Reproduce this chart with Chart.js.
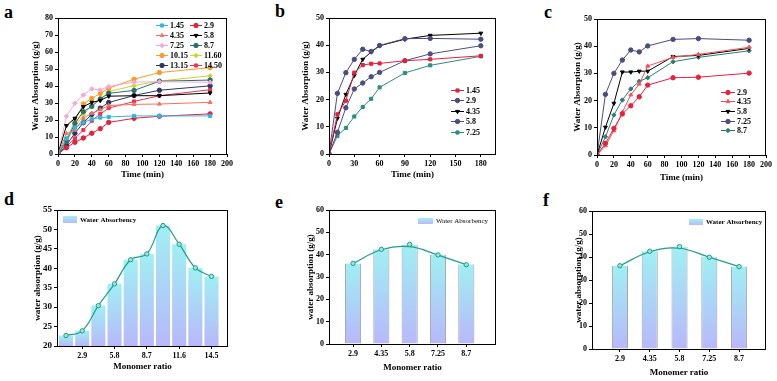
<!DOCTYPE html>
<html>
<head>
<meta charset="utf-8">
<script src="https://cdn.jsdelivr.net/npm/chart.js@4.4.0/dist/chart.umd.min.js"></script>
<style>
  body { margin: 0; width: 777px; height: 381px; position: relative; overflow: hidden; background: #fff; }
  canvas { position: absolute; }
  .tag { position: absolute; font: bold 18px "Liberation Serif", serif; line-height: 17px; color: #000; }
</style>
</head>
<body>
<div class="tag" style="left:4px;top:4px">a</div>
<div class="tag" style="left:275px;top:3px">b</div>
<div class="tag" style="left:544px;top:4px">c</div>
<div class="tag" style="left:4px;top:191px">d</div>
<div class="tag" style="left:275px;top:194px">e</div>
<div class="tag" style="left:543px;top:192px">f</div>
<script>
// ---------- data ----------
const timeMin = [0, 10, 20, 30, 40, 50, 60, 90, 120, 180];
const timeTicksB = [0, 30, 60, 90, 120, 150, 180];

// panel a
const ratioA = ['1.45', '2.9', '4.35', '5.8', '7.25', '8.7', '10.15', '11.60', '13.15', '14.50'];
const absorbA = [
    [0, 9.2, 15.5, 18.5, 20.5, 21.4, 21.8, 22.4, 22.4, 22.4],
    [0, 3.7, 6.9, 9.4, 12.2, 14.9, 18.6, 21.0, 22.2, 23.6],
    [0, 12.0, 14.1, 21.0, 24.0, 26.0, 28.5, 29.2, 29.4, 30.4],
    [0, 16.7, 21.0, 27.8, 30.4, 31.5, 34.0, 34.3, 34.3, 35.9],
    [0, 22.2, 29.8, 34.7, 38.3, 37.7, 39.7, 42.3, 42.5, 42.2],
    [0, 7.3, 18.0, 24.9, 28.0, 32.4, 35.7, 37.4, 42.8, 43.5],
    [0, 8.2, 19.4, 29.4, 32.7, 35.6, 38.7, 44.0, 47.9, 50.8],
    [0, 7.5, 16.0, 22.9, 28.8, 32.4, 36.8, 40.2, 42.9, 46.0],
    [0, 5.3, 12.2, 18.4, 23.3, 27.0, 30.3, 34.4, 37.5, 40.1],
    [0, 4.3, 9.2, 14.1, 19.6, 23.5, 27.0, 30.9, 34.3, 37.8]
];

// panel b
const ratioB = ['1.45', '2.9', '4.35', '5.8', '7.25'];
const absorbB = [
    [0, 14.6, 19.6, 29.9, 32.7, 33.2, 33.3, 34.3, 34.8, 36.1],
    [0, 22.3, 29.9, 34.8, 38.5, 37.7, 39.9, 42.4, 42.5, 42.2],
    [0, 13.1, 21.9, 28.9, 34.8, 37.5, 39.8, 42.2, 43.6, 44.4],
    [0, 8.0, 17.0, 23.9, 26.1, 28.4, 30.0, 34.3, 36.8, 39.8],
    [0, 6.7, 9.6, 13.8, 17.3, 20.3, 24.5, 29.8, 32.6, 35.9]
];

// panel c
const ratioC = ['2.9', '4.35', '5.8', '7.25', '8.7'];
const absorbC = [
    [0, 4.3, 9.8, 15.1, 18.1, 21.4, 25.7, 28.4, 28.6, 30.1],
    [0, 3.4, 8.9, 15.7, 22.1, 26.1, 32.7, 35.9, 37.0, 39.6],
    [0, 10.2, 19.0, 30.5, 30.5, 30.8, 30.8, 36.2, 36.6, 39.2],
    [0, 22.3, 30.0, 34.9, 38.6, 37.9, 40.1, 42.5, 42.8, 42.2],
    [0, 6.7, 14.7, 20.2, 24.3, 27.1, 28.4, 34.3, 35.9, 38.3]
];

// panel d
const ratioD = [1.45, 2.9, 4.35, 5.8, 7.25, 8.7, 10.15, 11.6, 13.05, 14.5];
const barsD = [22.7, 23.9, 30.4, 36.0, 42.2, 43.7, 51.0, 46.2, 40.1, 37.9];
const tickLabelsD = ['2.9', '5.8', '8.7', '11.6', '14.5'];
const tickValuesD = [2.9, 5.8, 8.7, 11.6, 14.5];

// panel e
const ratioE = [2.9, 4.35, 5.8, 7.25, 8.7];
const labelsE = ['2.9', '4.35', '5.8', '7.25', '8.7'];
const barsE = [36.1, 42.4, 44.6, 39.9, 35.7];
const pointsE = [36.1, 42.4, 44.6, 39.9, 35.5];
const fitE = [36.1, 42.2, 43.6, 39.8, 35.5];

// panel f
const barsF = [36.1, 42.5, 44.5, 40.1, 35.8];
const pointsF = [36.2, 42.5, 44.5, 39.9, 35.8];
const fitF = [36.2, 42.3, 43.8, 39.9, 35.8];

// ---------- styles ----------
const styleA = [
    { color: '#2fb8e0', shape: 'rect' },
    { color: '#e5203c', shape: 'circle' },
    { color: '#f4725f', shape: 'triangle' },
    { color: '#000000', shape: 'triangle', rot: 180 },
    { color: '#f7a6d6', shape: 'rectRot' },
    { color: '#2b6f6c', shape: 'circle' },
    { color: '#f89b2e', shape: 'circle' },
    { color: '#c4d82c', shape: 'rectRot' },
    { color: '#2c3566', shape: 'circle' },
    { color: '#ee3350', shape: 'rect' }
];
const styleB = [
    { color: '#e61f3c', shape: 'rect' },
    { color: '#4a4b7e', shape: 'circle' },
    { color: '#000000', shape: 'triangle', rot: 180 },
    { color: '#4d4f82', shape: 'circle' },
    { color: '#2c8c84', shape: 'rect' }
];
const styleC = [
    { color: '#e8203c', shape: 'circle' },
    { color: '#f5505a', shape: 'triangle' },
    { color: '#000000', shape: 'triangle', rot: 180 },
    { color: '#4a4b7e', shape: 'circle' },
    { color: '#2b7f78', shape: 'rectRot' }
];

const SERIF = '"Liberation Serif", "Times New Roman", serif';
const TEAL = '#1f9e8e';

Chart.defaults.font.family = SERIF;
Chart.defaults.font.weight = 'bold';
Chart.defaults.font.size = 8;
Chart.defaults.color = '#000';
Chart.defaults.animation = false;

// canvas rect and target plot rect, in page pixels
const boxes = {
    a: { x: 30, y: 0, w: 228, h: 180, l: 58, t: 18, r: 227, b: 154 },
    b: { x: 300, y: 0, w: 220, h: 180, l: 329, t: 18, r: 496, b: 154 },
    c: { x: 572, y: 0, w: 205, h: 183, l: 597, t: 19, r: 766, b: 155 },
    d: { x: 32, y: 190, w: 226, h: 182, l: 57, t: 210, r: 228, b: 346 },
    e: { x: 305, y: 190, w: 215, h: 183, l: 329, t: 210, r: 496, b: 344 },
    f: { x: 573, y: 190, w: 204, h: 188, l: 592, t: 211, r: 766, b: 349 }
};

function makeCanvas(bx) {
    const c = document.createElement('canvas');
    c.width = bx.w;
    c.height = bx.h;
    c.style.left = bx.x + 'px';
    c.style.top = bx.y + 'px';
    document.body.appendChild(c);
    return c;
}

function drawMarker(ctx, ds, x, y) {
    ctx.strokeStyle = ds.pointBorderColor || ds.borderColor;
    ctx.fillStyle = ds.pointBackgroundColor || ds.borderColor;
    const opts = { pointStyle: ds.pointStyle || 'circle', rotation: ds.pointRotation || 0, radius: ds.pointRadius, borderWidth: 1 };
    if (Chart.helpers && Chart.helpers.drawPoint) {
        Chart.helpers.drawPoint(ctx, opts, x, y);
    } else {
        ctx.beginPath(); ctx.arc(x, y, opts.radius, 0, Math.PI * 2); ctx.fill(); ctx.stroke();
    }
}

// full frame around the plot
const framePlugin = {
    id: 'frame',
    afterDraw(chart) {
        const { ctx, chartArea: a } = chart;
        ctx.save();
        ctx.strokeStyle = '#000';
        ctx.lineWidth = 1;
        ctx.strokeRect(a.left + 0.5, a.top + 0.5, a.right - a.left - 1, a.bottom - a.top);
        ctx.restore();
    }
};

// legends drawn inside the plot
const legendPlugin = {
    id: 'panelLegend',
    afterDraw(chart, args, o) {
        if (!o || !o.kind) return;
        const { ctx, chartArea: a } = chart;
        ctx.save();
        ctx.font = o.font;
        ctx.textBaseline = 'middle';
        ctx.textAlign = 'left';
        if (o.kind === 'line') {
            chart.data.datasets.forEach((ds, i) => {
                const col = i % o.cols, row = Math.floor(i / o.cols);
                const x = a.left + o.x + col * o.colGap;
                const y = Math.round(a.top + o.y + row * o.dy) + 0.5;
                ctx.strokeStyle = ds.borderColor;
                ctx.lineWidth = 1;
                ctx.beginPath(); ctx.moveTo(x, y); ctx.lineTo(x + o.len, y); ctx.stroke();
                drawMarker(ctx, ds, x + o.len / 2, y);
                ctx.fillStyle = '#000';
                ctx.fillText(ds.label, x + o.len + 2, y + 0.5);
            });
        } else {
            const x = a.left + o.x, y = a.top + o.y;
            const g = ctx.createLinearGradient(0, y, 0, y + o.h);
            g.addColorStop(0, '#a2eff4');
            g.addColorStop(1, '#b9b9fa');
            ctx.fillStyle = g;
            ctx.fillRect(x, y, o.w, o.h);
            ctx.fillStyle = '#000';
            ctx.fillText(o.text, x + o.w + 3, y + o.h / 2 + 0.5);
        }
        ctx.restore();
    }
};

Chart.register(framePlugin, legendPlugin);

function xAxis(bx, title, extra) {
    return Object.assign({
        type: 'linear',
        offset: false,
        border: { display: false },
        grid: { drawOnChartArea: false, drawTicks: true, tickLength: 3, color: '#000', offset: false },
        ticks: { padding: 2, maxRotation: 0, autoSkip: false, font: { size: 8 } },
        title: { display: true, text: title, font: { size: 9, weight: 'bold' }, padding: 0 },
        afterFit: (s) => { s.height = bx.y + bx.h - bx.b; }
    }, extra);
}

function yAxis(bx, title, min, max, step, tickSize) {
    return {
        min, max,
        border: { display: false },
        grid: { drawOnChartArea: false, drawTicks: true, tickLength: 3, color: '#000' },
        ticks: { stepSize: step, padding: 2, font: { size: tickSize || 8 } },
        title: { display: true, text: title, font: { size: 9, weight: 'bold' }, padding: 0 },
        afterFit: (s) => { s.width = bx.l - bx.x; }
    };
}

function baseOptions(bx) {
    return {
        responsive: false,
        events: [],
        layout: { padding: { left: 0, bottom: 0, top: bx.t - bx.y, right: bx.x + bx.w - bx.r } },
        plugins: { legend: { display: false }, tooltip: { enabled: false } }
    };
}

function kineticsChart(bx, names, values, styles, xOpts, yMax, legend) {
    const options = baseOptions(bx);
    options.scales = {
        x: xAxis(bx, 'Time (min)', xOpts),
        y: yAxis(bx, 'Water Absorption (g/g)', 0, yMax, 10)
    };
    options.plugins.panelLegend = legend;
    new Chart(makeCanvas(bx), {
        type: 'line',
        data: {
            datasets: names.map((name, i) => ({
                label: name,
                data: timeMin.map((t, j) => ({ x: t, y: values[i][j] })),
                borderColor: styles[i].color,
                backgroundColor: styles[i].color,
                pointBackgroundColor: styles[i].color,
                pointStyle: styles[i].shape,
                pointRotation: styles[i].rot || 0,
                pointRadius: 2.2,
                pointBorderWidth: 1,
                borderWidth: 1,
                tension: 0
            }))
        },
        options
    });
}

// ---------- panel a ----------
kineticsChart(boxes.a, ratioA, absorbA, styleA,
    { min: 0, max: 200, ticks: { stepSize: 20, padding: 2, maxRotation: 0, font: { size: 8 } } }, 80,
    { kind: 'line', x: 98, y: 6.5, dy: 10, cols: 2, colGap: 34, len: 12, font: 'bold 8px ' + SERIF });

// ---------- panel b ----------
kineticsChart(boxes.b, ratioB, absorbB, styleB,
    {
        min: 0, max: 198,
        afterBuildTicks: (s) => { s.ticks = timeTicksB.map(v => ({ value: v })); }
    }, 50,
    { kind: 'line', x: 122, y: 71.5, dy: 10.5, cols: 1, colGap: 0, len: 13, font: 'bold 8px ' + SERIF });

// ---------- panel c ----------
kineticsChart(boxes.c, ratioC, absorbC, styleC,
    { min: 0, max: 200, ticks: { stepSize: 20, padding: 2, maxRotation: 0, font: { size: 8 } } }, 50,
    { kind: 'line', x: 124, y: 72.5, dy: 9.7, cols: 1, colGap: 0, len: 14, font: 'bold 8px ' + SERIF });

// ---------- bar panels ----------
function barGradient(context) {
    const chart = context.chart;
    const { ctx, chartArea, scales } = chart;
    if (!chartArea || !context.raw) return '#a8eef4';
    const top = scales.y.getPixelForValue(context.raw.y);
    const g = ctx.createLinearGradient(0, top, 0, chartArea.bottom);
    g.addColorStop(0, '#a0eff3');
    g.addColorStop(1, '#b8b8fa');
    return g;
}

function ratioChart(bx, cfg) {
    const options = baseOptions(bx);
    options.scales = {
        x: xAxis(bx, 'Monomer ratio', {
            min: cfg.xMin, max: cfg.xMax,
            afterBuildTicks: (s) => { s.ticks = cfg.tickValues.map(v => ({ value: v })); },
            ticks: { padding: 2, maxRotation: 0, autoSkip: false, font: { size: 8 }, callback: (v, i) => cfg.tickLabels[i] }
        }),
        y: yAxis(bx, 'water absorption (g/g)', cfg.yMin, cfg.yMax, cfg.yStep, cfg.yTickSize)
    };
    options.plugins.panelLegend = cfg.legend;
    const datasets = [{
        type: 'bar',
        label: 'Water Absorbency',
        data: cfg.ratios.map((r, i) => ({ x: r, y: cfg.bars[i] })),
        backgroundColor: barGradient,
        borderColor: cfg.barBorder || 'rgba(0,0,0,0)',
        borderWidth: cfg.barBorder ? { left: 1, right: 1, top: 0, bottom: 0 } : 0,
        borderSkipped: false,
        categoryPercentage: cfg.barFrac,
        barPercentage: 1,
        order: 3
    }, {
        type: 'line',
        label: 'curve',
        data: cfg.ratios.map((r, i) => ({ x: r, y: cfg.curve[i] })),
        borderColor: TEAL,
        borderWidth: 1.2,
        pointRadius: 0,
        tension: 0.4,
        order: 2
    }, {
        type: 'line',
        label: 'points',
        data: cfg.ratios.map((r, i) => ({ x: r, y: cfg.points[i] })),
        showLine: false,
        borderColor: TEAL,
        pointBorderColor: TEAL,
        pointBackgroundColor: '#9fe3da',
        pointRadius: 2.2,
        pointBorderWidth: 1,
        order: 1
    }];
    new Chart(makeCanvas(bx), { type: 'bar', data: { datasets }, options });
}

// ---------- panel d ----------
ratioChart(boxes.d, {
    ratios: ratioD, bars: barsD, curve: barsD, points: barsD,
    xMin: 0.64, xMax: 15.98, tickValues: tickValuesD, tickLabels: tickLabelsD,
    yMin: 20, yMax: 55, yStep: 5, yTickSize: 9, barFrac: 0.87,
    legend: { kind: 'box', x: 6, y: 6, w: 14, h: 7, text: 'Water Absorbency', font: 'bold 7px ' + SERIF }
});

// ---------- panel e ----------
ratioChart(boxes.e, {
    ratios: ratioE, bars: barsE, curve: fitE, points: pointsE,
    xMin: 1.67, xMax: 10.22, tickValues: ratioE, tickLabels: labelsE,
    yMin: 0, yMax: 60, yStep: 10, barFrac: 0.57, barBorder: 'rgba(70,70,100,0.5)',
    legend: { kind: 'box', x: 89, y: 8, w: 15, h: 6, text: 'Water Absorbency', font: '7px ' + SERIF }
});

// ---------- panel f ----------
ratioChart(boxes.f, {
    ratios: ratioE, bars: barsF, curve: fitF, points: pointsF,
    xMin: 1.54, xMax: 10.01, tickValues: ratioE, tickLabels: labelsE,
    yMin: 0, yMax: 60, yStep: 10, barFrac: 0.54, barBorder: 'rgba(70,70,100,0.5)',
    legend: { kind: 'box', x: 97, y: 8, w: 14, h: 6, text: 'Water Absorbency', font: 'bold 7px ' + SERIF }
});
</script>
</body>
</html>
